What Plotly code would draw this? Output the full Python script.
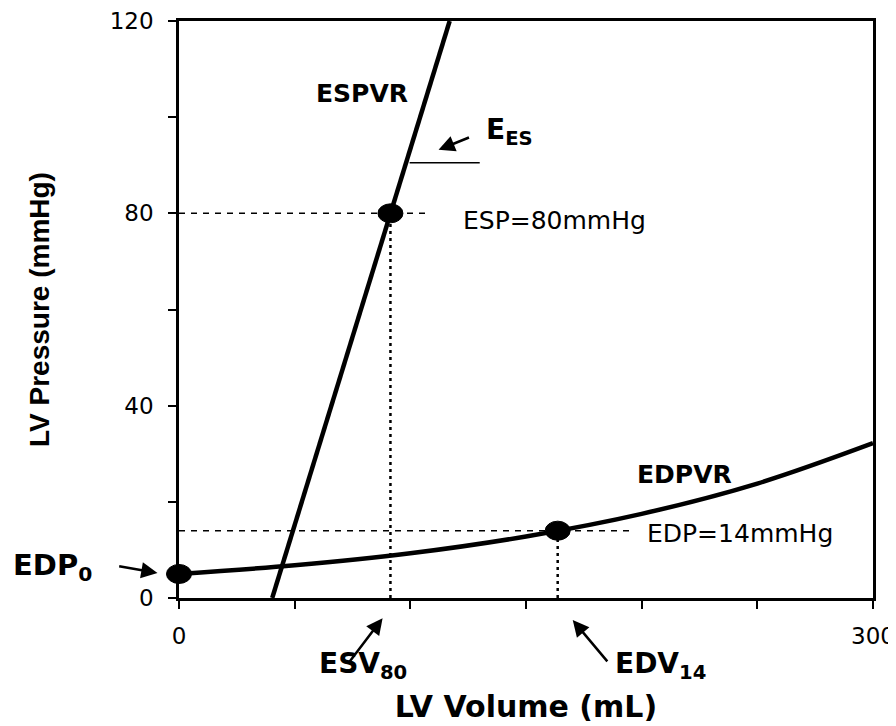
import plotly.graph_objects as go

# ---- data ----
espvr_v = [40.3, 91.4, 117.0]
espvr_p = [0.0, 80.0, 120.0]

edpvr_v = [0, 50, 100, 150, 200, 250, 300]
edpvr_p = [5.0, 6.8, 9.3, 12.8, 17.5, 23.8, 32.2]

pts_v = [0.0, 91.4, 163.7]      # EDP0, ESV80/ESP, EDV14/EDP
pts_p = [5.0, 80.0, 14.0]

esp_line_end = 107.0
edp_line_end = 196.0

ees_v = [99.7, 130.0]
ees_p = [90.5, 90.5]

X_MAX = 300
Y_MAX = 120
x_tickvals = [0, 50, 100, 150, 200, 250, 300]
x_ticktext = ["0", "", "", "", "", "", "300"]
y_tickvals = [0, 20, 40, 60, 80, 100, 120]
y_ticktext = ["0", "", "40", "", "80", "", "120"]

FONT = "DejaVu Sans, sans-serif"
FONT_Y = "Liberation Sans, Arial, sans-serif"

def dx(v):
    return v / X_MAX

def dy(p):
    return p / Y_MAX

fig = go.Figure()

# reference dashed / dotted lines
fig.add_trace(go.Scatter(x=[0, esp_line_end], y=[pts_p[1], pts_p[1]], mode="lines",
                         line=dict(color="black", width=1.5, dash="6px,6px"), hoverinfo="skip"))
fig.add_trace(go.Scatter(x=[0, edp_line_end], y=[pts_p[2], pts_p[2]], mode="lines",
                         line=dict(color="black", width=1.5, dash="6px,6px"), hoverinfo="skip"))
fig.add_trace(go.Scatter(x=[pts_v[1], pts_v[1]], y=[0, pts_p[1]], mode="lines",
                         line=dict(color="black", width=2.5, dash="3px,4px"), hoverinfo="skip"))
fig.add_trace(go.Scatter(x=[pts_v[2], pts_v[2]], y=[0, pts_p[2]], mode="lines",
                         line=dict(color="black", width=2.5, dash="3px,4px"), hoverinfo="skip"))

# Ees tangent marker line
fig.add_trace(go.Scatter(x=ees_v, y=ees_p, mode="lines",
                         line=dict(color="black", width=1.5), hoverinfo="skip"))

# ESPVR and EDPVR
fig.add_trace(go.Scatter(x=espvr_v, y=espvr_p, mode="lines",
                         line=dict(color="black", width=4.5), hoverinfo="skip"))
fig.add_trace(go.Scatter(x=edpvr_v, y=edpvr_p, mode="lines",
                         line=dict(color="black", width=4.5, shape="spline"), hoverinfo="skip"))

# ellipse points (domain refs so they are not clipped at the axis)
for v, p in zip(pts_v, pts_p):
    fig.add_shape(type="circle", xref="x domain", yref="y domain",
                  xsizemode="pixel", ysizemode="pixel",
                  xanchor=dx(v), yanchor=dy(p), x0=-12.5, x1=12.5, y0=-9.5, y1=9.5,
                  fillcolor="black", line=dict(color="black", width=1))

ann = []
def txt(x, y, s, size=24, bold=False, xanchor="center"):
    if bold:
        s = "<b>" + s + "</b>"
    ann.append(dict(x=dx(x), y=dy(y), xref="x domain", yref="y domain", text=s,
                    showarrow=False, xanchor=xanchor, yanchor="middle",
                    font=dict(family=FONT, size=size, color="black")))

def arrow(x_head, y_head, x_tail, y_tail):
    ann.append(dict(x=dx(x_head), y=dy(y_head), ax=dx(x_tail), ay=dy(y_tail),
                    xref="x domain", yref="y domain", axref="x domain", ayref="y domain",
                    text="", showarrow=True, arrowhead=2,
                    arrowsize=1.3, arrowwidth=2.5, arrowcolor="black", standoff=0))

txt(79, 105, "ESPVR", size=25, bold=True)
txt(132, 97.0, "E<sub>ES</sub>", size=28, bold=True, xanchor="left")
txt(122.0, 78.6, "ESP=80mmHg", size=25, xanchor="left")
txt(218.6, 25.6, "EDPVR", size=25, bold=True)
txt(201.5, 13.5, "EDP=14mmHg", size=25, xanchor="left")
txt(-72.5, 6.4, "EDP<sub>0</sub>", size=29, bold=True, xanchor="left")
txt(79.5, -14, "ESV<sub>80</sub>", size=28, bold=True)
txt(208.0, -14, "EDV<sub>14</sub>", size=28, bold=True)

arrow(112.2, 93.2, 126, 95.9)
arrow(-9.3, 5.2, -26.5, 6.65)
arrow(88, -4.2, 73.3, -13.5)
arrow(170.2, -4.6, 185.7, -13.5)

fig.update_layout(
    width=896, height=726,
    margin=dict(l=171, r=31, t=13, b=136),
    paper_bgcolor="white", plot_bgcolor="white",
    showlegend=False,
    annotations=ann,
    font=dict(family=FONT, color="black"),
)
fig.update_xaxes(range=[0, X_MAX], tickvals=x_tickvals, ticktext=x_ticktext,
                 ticks="outside", ticklen=8, tickwidth=1.5, tickcolor="black",
                 showline=True, linecolor="black", linewidth=2.5, mirror=True,
                 showgrid=False, zeroline=False, automargin=False,
                 ticklabelstandoff=8,
                 tickfont=dict(family=FONT, size=23, color="black"),
                 title=dict(text="<b>LV Volume (mL)</b>", font=dict(family=FONT, size=30),
                            standoff=48))
fig.update_yaxes(range=[0, Y_MAX], tickvals=y_tickvals, ticktext=y_ticktext,
                 ticks="outside", ticklen=8, tickwidth=1.5, tickcolor="black",
                 showline=True, linecolor="black", linewidth=2.5, mirror=True,
                 showgrid=False, zeroline=False, automargin=False,
                 ticklabelstandoff=10,
                 tickfont=dict(family=FONT, size=23, color="black"),
                 title=dict(text="<b>LV Pressure (mmHg)</b>", font=dict(family=FONT_Y, size=28),
                            standoff=52))

fig.write_html("out.html")
